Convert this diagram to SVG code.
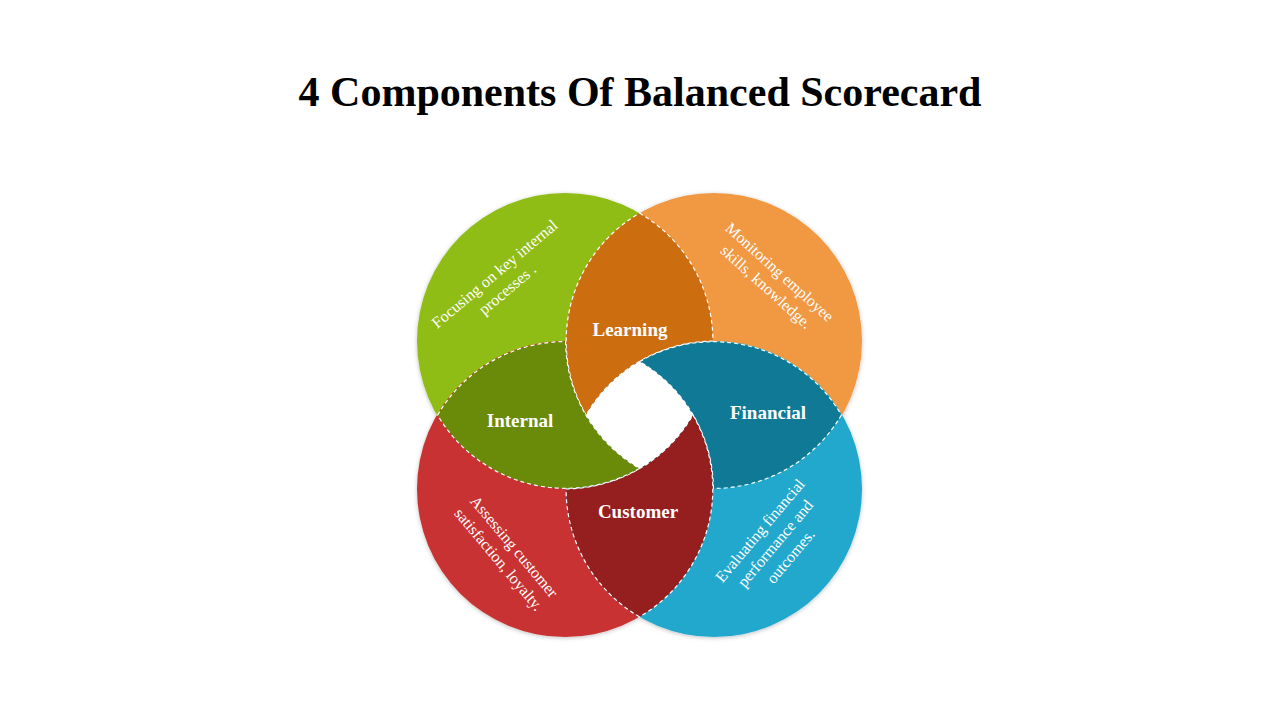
<svg xmlns="http://www.w3.org/2000/svg" width="1280" height="720" viewBox="0 0 1280 720">
<defs>
<filter id="sh" x="-10%" y="-10%" width="120%" height="120%"><feDropShadow dx="0" dy="1" stdDeviation="2" flood-color="#000" flood-opacity="0.25"/></filter>
<style>
.lens{stroke:#fff;stroke-width:1.2;stroke-dasharray:4 3}
.lbl{font-family:"Liberation Serif",serif;font-weight:bold;font-size:19px;fill:#fff;text-anchor:middle}
.desc{font-family:"Liberation Serif",serif;font-size:16px;fill:#fff;text-anchor:middle}
</style>
</defs>
<rect width="1280" height="720" fill="#fff"/>
<text x="640" y="106" text-anchor="middle" font-family="Liberation Serif,serif" font-weight="bold" font-size="42" fill="#000">4 Components Of Balanced Scorecard</text>
<g id="circles" filter="url(#sh)">
<circle id="green" cx="565" cy="341" r="148" fill="#8FBD18"/>
<circle id="orange" cx="714" cy="341" r="148" fill="#F09842"/>
<circle id="red" cx="565" cy="489" r="148" fill="#C93330"/>
<circle id="blue" cx="714" cy="489" r="148" fill="#20A8CC"/>
</g>
<g id="learning"><path class="lens" fill="#CC6E10" d="M639.5,213.1 A148,148 0 0 1 712.9,341.1 A148,148 0 0 0 586.1,415 A148,148 0 0 1 639.5,213.1Z"/><text class="lbl" x="630" y="336">Learning</text></g>
<g id="financial"><path class="lens" fill="#107A96" d="M841.4,415 A148,148 0 0 1 713.4,488.4 A148,148 0 0 0 639.5,361.6 A148,148 0 0 1 841.4,415Z"/><text class="lbl" x="768" y="419">Financial</text></g>
<g id="customer"><path class="lens" fill="#951E1E" d="M639.5,616.9 A148,148 0 0 1 566.1,488.9 A148,148 0 0 0 692.9,415 A148,148 0 0 1 639.5,616.9Z"/><text class="lbl" x="638" y="518">Customer</text></g>
<g id="internal"><path class="lens" fill="#6A8A0A" d="M437.6,415 A148,148 0 0 1 565.6,341.6 A148,148 0 0 0 639.5,468.4 A148,148 0 0 1 437.6,415Z"/><text class="lbl" x="520" y="427">Internal</text></g>
<g id="center"><path fill="#fff" d="M639.5,361.6 A148,148 0 0 1 692.9,415 A148,148 0 0 1 639.5,468.4 A148,148 0 0 1 586.1,415 A148,148 0 0 1 639.5,361.6Z"/></g>
<g id="texts">
<text class="desc" transform="translate(498,278) rotate(-40)"><tspan x="0" y="0">Focusing on key internal</tspan><tspan x="0" y="20">processes .</tspan></text>
<text class="desc" transform="translate(776,276) rotate(42)"><tspan x="0" y="0">Monitoring employee</tspan><tspan x="0" y="20">skills, knowledge.</tspan></text>
<text class="desc" transform="translate(510,550) rotate(50)"><tspan x="0" y="0">Assessing customer</tspan><tspan x="0" y="20">satisfaction, loyalty.</tspan></text>
<text class="desc" transform="translate(764,534) rotate(-50)"><tspan x="0" y="0">Evaluating financial</tspan><tspan x="0" y="20">performance and</tspan><tspan x="0" y="40">outcomes.</tspan></text>
</g>
</svg>
